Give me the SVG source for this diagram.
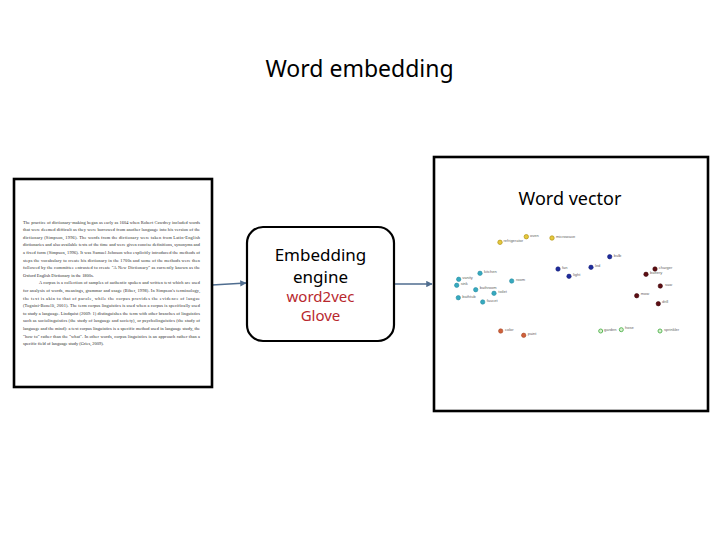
<svg xmlns="http://www.w3.org/2000/svg" width="720" height="540" viewBox="0 0 720 540">
<style>
.t{font-family:"Noto Sans","Open Sans","DejaVu Sans",sans-serif;fill:#000}
.doc{font-family:"Liberation Serif","Times New Roman",serif;font-size:4.4px;fill:#2a2a2a}
.lbl{font-family:"Liberation Sans",Arial,sans-serif;font-size:4px;fill:#666}
.box{fill:#fff;stroke:#000;stroke-width:2.6}
.con{stroke:#4f6d8f;stroke-width:1.6;fill:none}
.y{fill:#e6c83c;stroke:#b89a20;stroke-width:0.8}
.c{fill:#36a9bf;stroke:#2a8ea3;stroke-width:0.6}
.b{fill:#1e2c9c;stroke:#16207a;stroke-width:0.6}
.r{fill:#5e0d12;stroke:#3e080c;stroke-width:0.6}
.o{fill:#d0603a;stroke:#a84a2a;stroke-width:0.6}
.g{fill:#d6f0cc;stroke:#5cb85a;stroke-width:1}
</style>
<defs>
<marker id="arr" viewBox="0 0 10 10" refX="9" refY="5" markerWidth="4" markerHeight="4" orient="auto" markerUnits="strokeWidth">
<path d="M0,0 L10,5 L0,10 z" fill="#4f6d8f"/>
</marker>
</defs>
<rect width="720" height="540" fill="#fff"/>
<text class="t" x="359.5" y="77" font-size="23" text-anchor="middle">Word embedding</text>

<g id="connectors">
<path class="con" d="M212,285 L246,283" marker-end="url(#arr)"/>
<path class="con" d="M394,284 L432,284" marker-end="url(#arr)"/>
</g>

<g id="document">
<rect class="box" x="14" y="179" width="198" height="208"/>
<text class="doc" x="23" y="223.5" textLength="177" lengthAdjust="spacing">The practice of dictionary-making began as early as 1604 when Robert Cawdrey included words</text>
<text class="doc" x="23" y="231.1" textLength="177" lengthAdjust="spacing">that were deemed difficult as they were borrowed from another language into his version of the</text>
<text class="doc" x="23" y="238.7" textLength="177" lengthAdjust="spacing">dictionary (Simpson, 1996). The words from the dictionary were taken from Latin-English</text>
<text class="doc" x="23" y="246.3" textLength="177" lengthAdjust="spacing">dictionaries and also available texts of the time and were given concise definitions, synonyms and</text>
<text class="doc" x="23" y="253.9" textLength="177" lengthAdjust="spacing">a fixed form (Simpson, 1996). It was Samuel Johnson who explicitly introduced the methods of</text>
<text class="doc" x="23" y="261.5" textLength="177" lengthAdjust="spacing">steps the vocabulary to create his dictionary in the 1700s and some of the methods were then</text>
<text class="doc" x="23" y="269.1" textLength="177" lengthAdjust="spacing">followed by the committee entrusted to create "A New Dictionary" as currently known as the</text>
<text class="doc" x="23" y="276.7">Oxford English Dictionary in the 1800s.</text>
<text class="doc" x="39" y="284.3" textLength="161" lengthAdjust="spacing">A corpus is a collection of samples of authentic spoken and written text which are used</text>
<text class="doc" x="23" y="291.9" textLength="177" lengthAdjust="spacing">for analysis of words, meanings, grammar and usage (Biber, 1998). In Simpson's terminology,</text>
<text class="doc" x="23" y="299.5" textLength="177" lengthAdjust="spacing">the text is akin to that of parole, while the corpus provides the evidence of langue</text>
<text class="doc" x="23" y="307.1" textLength="177" lengthAdjust="spacing">(Tognini-Bonelli, 2001). The term corpus linguistics is used when a corpus is specifically used</text>
<text class="doc" x="23" y="314.7" textLength="177" lengthAdjust="spacing">to study a language. Lindquist (2009: 1) distinguishes the term with other branches of linguistics</text>
<text class="doc" x="23" y="322.3" textLength="177" lengthAdjust="spacing">such as sociolinguistics (the study of language and society), or psycholinguistics (the study of</text>
<text class="doc" x="23" y="329.9" textLength="177" lengthAdjust="spacing">language and the mind): a text corpus linguistics is a specific method used in language study, the</text>
<text class="doc" x="23" y="337.5" textLength="177" lengthAdjust="spacing">"how to" rather than the "what". In other words, corpus linguistics is an approach rather than a</text>
<text class="doc" x="23" y="345.1">specific field of language study (Gries, 2009).</text>
</g>

<g id="engine">
<rect x="247" y="227" width="147" height="114" rx="16" fill="#fff" stroke="#000" stroke-width="2.2"/>
<text class="t" x="320.5" y="261" font-size="17" text-anchor="middle">Embedding</text>
<text class="t" x="320.5" y="283" font-size="17" text-anchor="middle">engine</text>
<text class="t" x="320.5" y="302" font-size="15" text-anchor="middle" style="fill:#b8282e">word2vec</text>
<text class="t" x="320.5" y="320.5" font-size="15" text-anchor="middle" style="fill:#b8282e">Glove</text>
</g>

<g id="word-vector">
<rect class="box" x="434" y="157" width="274" height="254"/>
<text class="t" x="570" y="205" font-size="18" text-anchor="middle">Word vector</text>
<g id="pts-yellow">
<circle class="y" cx="500" cy="242.3" r="2.2"/><text class="lbl" x="503.5" y="242">refrigerator</text>
<circle class="y" cx="526.3" cy="236.7" r="2.2"/><text class="lbl" x="530" y="236.5">oven</text>
<circle class="y" cx="552" cy="238" r="2.2"/><text class="lbl" x="556" y="238">microwave</text>
</g>
<g id="pts-cyan">
<circle class="c" cx="480" cy="273.3" r="2.2"/><text class="lbl" x="484" y="273">kitchen</text>
<circle class="c" cx="458.7" cy="279.3" r="2.2"/><text class="lbl" x="462.3" y="279">vanity</text>
<circle class="c" cx="456.7" cy="285.3" r="2.2"/><text class="lbl" x="460.7" y="285">sink</text>
<circle class="c" cx="475.7" cy="289.7" r="2.2"/><text class="lbl" x="479.7" y="289">bathroom</text>
<circle class="c" cx="494" cy="293.3" r="2.2"/><text class="lbl" x="498.3" y="293">toilet</text>
<circle class="c" cx="511.7" cy="281" r="2.2"/><text class="lbl" x="516" y="281">room</text>
<circle class="c" cx="458.3" cy="297.7" r="2.2"/><text class="lbl" x="462.3" y="297.5">bathtub</text>
<circle class="c" cx="482.7" cy="302" r="2.2"/><text class="lbl" x="486.7" y="301.7">faucet</text>
</g>
<g id="pts-blue">
<circle class="b" cx="609.7" cy="256.7" r="2.2"/><text class="lbl" x="613.7" y="256.5">bulb</text>
<circle class="b" cx="558" cy="269" r="2.2"/><text class="lbl" x="562" y="269">fan</text>
<circle class="b" cx="591" cy="267.3" r="2.2"/><text class="lbl" x="595" y="267">led</text>
<circle class="b" cx="569" cy="276.3" r="2.2"/><text class="lbl" x="573" y="276">light</text>
</g>
<g id="pts-red">
<circle class="r" cx="655" cy="269" r="2.2"/><text class="lbl" x="658.7" y="268.5">charger</text>
<circle class="r" cx="646" cy="274.3" r="2.2"/><text class="lbl" x="650" y="274">battery</text>
<circle class="r" cx="660.3" cy="286" r="2.2"/><text class="lbl" x="665" y="285.5">saw</text>
<circle class="r" cx="636.7" cy="295.7" r="2.2"/><text class="lbl" x="640.7" y="295.3">mow</text>
<circle class="r" cx="658.3" cy="303.7" r="2.2"/><text class="lbl" x="662" y="303">drill</text>
</g>
<g id="pts-orange">
<circle class="o" cx="500.7" cy="331" r="2.2"/><text class="lbl" x="505" y="330.5">color</text>
<circle class="o" cx="523.7" cy="335.3" r="2.2"/><text class="lbl" x="527.7" y="335">paint</text>
</g>
<g id="pts-green">
<circle class="g" cx="600.7" cy="331" r="2"/><text class="lbl" x="604" y="331">garden</text>
<circle class="g" cx="621.3" cy="329.7" r="2"/><text class="lbl" x="625" y="329">hose</text>
<circle class="g" cx="660" cy="331" r="2"/><text class="lbl" x="664" y="331">sprinkler</text>
</g>
</g>
</svg>
